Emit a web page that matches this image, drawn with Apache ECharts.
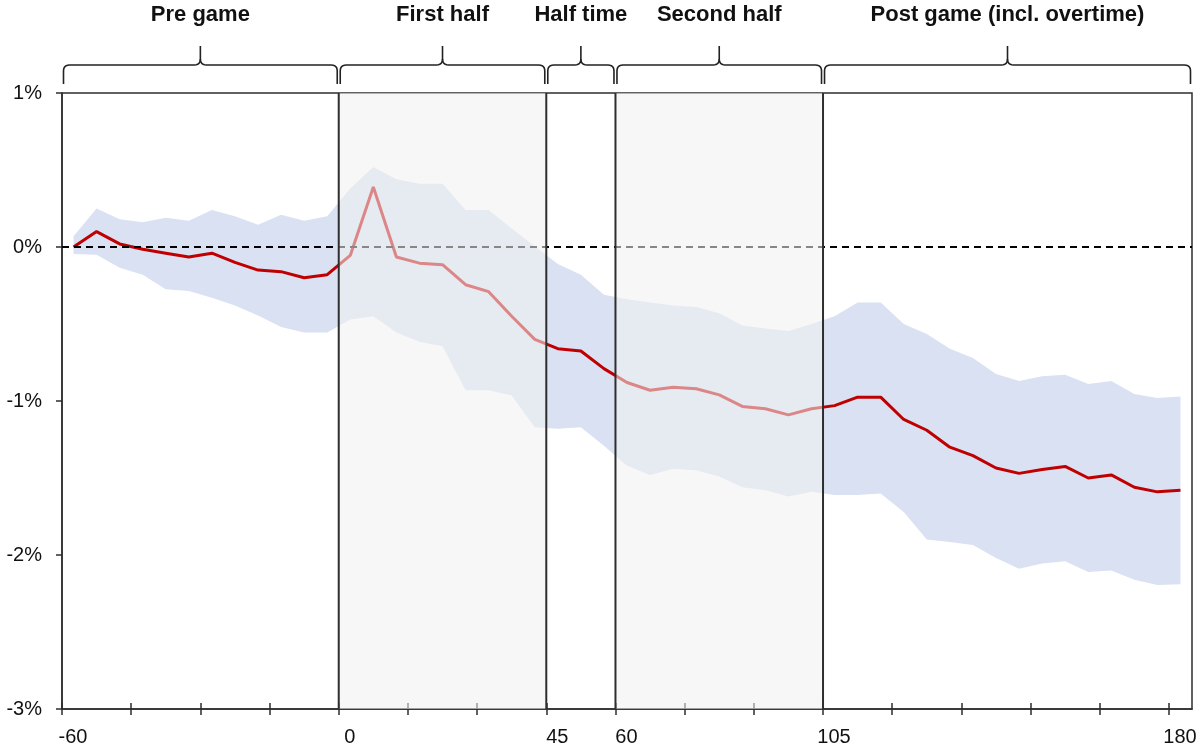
<!DOCTYPE html>
<html>
<head>
<meta charset="utf-8">
<script src="https://cdn.jsdelivr.net/npm/echarts@6.0.0/dist/echarts.min.js"></script>
<style>
html,body{margin:0;padding:0;background:#ffffff;}
#chart{width:1200px;height:749px;}
</style>
</head>
<body>
<div id="chart"></div>
<script>
// ---- data (minutes relative to kick-off, values in %) ----
const minutes = [-57.5,-52.5,-47.5,-42.5,-37.5,-32.5,-27.5,-22.5,-17.5,-12.5,-7.5,-2.5,
  2.5,7.5,12.5,17.5,22.5,27.5,32.5,37.5,42.5,47.5,52.5,57.5,
  62.5,67.5,72.5,77.5,82.5,87.5,92.5,97.5,102.5,107.5,112.5,117.5,
  122.5,127.5,132.5,137.5,142.5,147.5,152.5,157.5,162.5,167.5,172.5,177.5,182.5];
const meanChange = [0.00,0.10,0.02,-0.015,-0.04,-0.065,-0.04,-0.10,-0.15,-0.16,-0.20,-0.18,
  -0.055,0.39,-0.065,-0.105,-0.115,-0.245,-0.29,-0.45,-0.60,-0.66,-0.675,-0.79,
  -0.88,-0.93,-0.91,-0.92,-0.96,-1.035,-1.05,-1.09,-1.05,-1.03,-0.975,-0.975,
  -1.12,-1.19,-1.30,-1.355,-1.435,-1.47,-1.445,-1.425,-1.50,-1.48,-1.56,-1.59,-1.58];
const upperBound = [0.07,0.25,0.18,0.16,0.19,0.17,0.24,0.20,0.145,0.21,0.17,0.20,
  0.38,0.52,0.44,0.41,0.41,0.24,0.24,0.12,0.005,-0.11,-0.18,-0.31,
  -0.34,-0.36,-0.38,-0.39,-0.43,-0.51,-0.53,-0.545,-0.50,-0.45,-0.36,-0.36,
  -0.50,-0.565,-0.66,-0.72,-0.825,-0.87,-0.84,-0.83,-0.89,-0.87,-0.955,-0.98,-0.97];
const lowerBound = [-0.045,-0.05,-0.135,-0.18,-0.275,-0.285,-0.33,-0.38,-0.445,-0.52,-0.555,-0.555,
  -0.47,-0.45,-0.555,-0.615,-0.645,-0.93,-0.93,-0.965,-1.17,-1.18,-1.17,-1.29,
  -1.42,-1.48,-1.44,-1.45,-1.49,-1.56,-1.58,-1.62,-1.59,-1.61,-1.61,-1.60,
  -1.72,-1.90,-1.915,-1.935,-2.02,-2.09,-2.055,-2.04,-2.11,-2.10,-2.16,-2.195,-2.19];

const phaseNames = ['Pre game','First half','Half time','Second half','Post game (incl. overtime)'];
const phaseStart = [-60, 0, 45, 60, 105];
const phaseEnd   = [0, 45, 60, 105, 185];
const shadedStart = [0, 60];
const shadedEnd   = [45, 105];
const boundaries  = [0, 45, 60, 105];
const xTicks = [-60,-45,-30,-15,0,15,30,45,60,75,90,105,120,135,150,165,180];
const xTickLabels = [-60, 0, 45, 60, 105, 180];
const xMin = -60, xMax = 185;
const yMin = -3, yMax = 1;
const zeroLevel = [0, 0];

const FONT = '"Liberation Sans", Arial, Helvetica, sans-serif';
const DARK = '#2e2e2e';

const chart = echarts.init(document.getElementById('chart'), null, {renderer: 'canvas'});

function quadPts(p0, c, p1, n) {
  const out = [];
  for (let k = 1; k <= n; k++) {
    const t = k / n;
    out.push([
      (1-t)*(1-t)*p0[0] + 2*(1-t)*t*c[0] + t*t*p1[0],
      (1-t)*(1-t)*p0[1] + 2*(1-t)*t*c[1] + t*t*p1[1]
    ]);
  }
  return out;
}

const option = {
  animation: false,
  backgroundColor: '#ffffff',
  grid: {
    left: 62, right: 8, top: 93, bottom: 40,
    show: true, borderColor: DARK, borderWidth: 1.5, backgroundColor: 'transparent',
    containLabel: false, outerBoundsMode: 'none'
  },
  xAxis: [{
    type: 'value', min: xMin, max: xMax, interval: 15,
    axisLine: {show: true, onZero: false, lineStyle: {color: DARK, width: 1.5}},
    axisTick: {show: true, inside: false, length: 6, lineStyle: {color: DARK, width: 1.5}, customValues: xTicks},
    axisLabel: {
      show: true, customValues: xTickLabels, margin: 18,
      fontSize: 20, color: '#111', fontFamily: FONT,
      padding: [0, 0, 0, 22],
      formatter: v => String(v)
    },
    splitLine: {show: false}
  }, {
    type: 'value', min: xMin, max: xMax, interval: 15, position: 'bottom',
    axisLine: {show: false, onZero: false},
    axisTick: {show: true, inside: true, length: 6, lineStyle: {color: DARK, width: 1.5}, customValues: xTicks},
    axisLabel: {show: false},
    splitLine: {show: false}
  }],
  yAxis: {
    type: 'value', min: yMin, max: yMax, interval: 1,
    axisLine: {show: true, onZero: false, lineStyle: {color: DARK, width: 1.5}},
    axisTick: {show: true, inside: false, length: 6, lineStyle: {color: DARK, width: 1.5}},
    axisLabel: {margin: 20, fontSize: 20, color: '#111', fontFamily: FONT, formatter: v => v + '%'},
    splitLine: {show: false}
  },
  series: [
    {
      // confidence band
      type: 'custom', name: 'band', z: 1, silent: true,
      data: minutes.map((m, i) => [m, upperBound[i], lowerBound[i]]),
      encode: {x: 0, y: [1, 2]},
      renderItem: function (params, api) {
        if (params.dataIndex !== 0) return null;
        const pts = [];
        for (let i = 0; i < minutes.length; i++) pts.push(api.coord([minutes[i], upperBound[i]]));
        for (let i = minutes.length - 1; i >= 0; i--) pts.push(api.coord([minutes[i], lowerBound[i]]));
        return {type: 'polygon', shape: {points: pts}, style: {fill: '#d9e1f2', stroke: null}};
      }
    },
    {
      type: 'line', name: 'mean', z: 2, silent: true,
      data: minutes.map((m, i) => [m, meanChange[i]]),
      showSymbol: false, symbol: 'none',
      lineStyle: {color: '#c00000', width: 3},
      itemStyle: {color: '#c00000'}
    },
    {
      type: 'line', name: 'zero', z: 3, silent: true,
      data: [[xMin, zeroLevel[0]], [xMax, zeroLevel[1]]],
      showSymbol: false, symbol: 'none',
      lineStyle: {color: '#000000', width: 2, type: [7, 5]}
    },
    {
      // shaded playing periods (semi-transparent overlay)
      type: 'custom', name: 'shade', z: 4, silent: true,
      data: shadedStart.map((s, i) => [s, shadedEnd[i]]),
      renderItem: function (params, api) {
        const s = api.value(0), e = api.value(1);
        const p0 = api.coord([s, yMax]);
        const p1 = api.coord([e, yMin]);
        return {type: 'rect', shape: {x: p0[0], y: p0[1], width: p1[0] - p0[0], height: p1[1] - p0[1]},
          style: {fill: 'rgba(240,240,240,0.56)'}};
      }
    },
    {
      type: 'custom', name: 'bounds', z: 6, silent: true,
      data: boundaries.map(b => [b]),
      renderItem: function (params, api) {
        const b = api.value(0);
        const p0 = api.coord([b, yMax]);
        const p1 = api.coord([b, yMin]);
        return {type: 'line', shape: {x1: p0[0], y1: p0[1], x2: p1[0], y2: p1[1]},
          style: {stroke: DARK, lineWidth: 2}};
      }
    },
    {
      // phase braces and titles above the plot
      type: 'custom', name: 'phases', z: 6, silent: true, clip: false,
      data: phaseStart.map((s, i) => [s, phaseEnd[i]]),
      renderItem: function (params, api) {
        const i = params.dataIndex;
        const top = params.coordSys.y;
        const x1 = api.coord([phaseStart[i], yMax])[0] + 1.5;
        const x2 = api.coord([phaseEnd[i], yMax])[0] - 1.5;
        const mid = (x1 + x2) / 2;
        const yBar = top - 28, yEnd = top - 9, yTip = top - 47, r = 6;
        let pts = [[x1, yEnd], [x1, yBar + r]];
        pts = pts.concat(quadPts([x1, yBar + r], [x1, yBar], [x1 + r, yBar], 6));
        pts.push([mid - r, yBar]);
        pts = pts.concat(quadPts([mid - r, yBar], [mid, yBar], [mid, yBar - r], 6));
        pts.push([mid, yTip]);
        const left = pts;
        let right = [[mid, yBar - r]];
        right = right.concat(quadPts([mid, yBar - r], [mid, yBar], [mid + r, yBar], 6));
        right.push([x2 - r, yBar]);
        right = right.concat(quadPts([x2 - r, yBar], [x2, yBar], [x2, yBar + r], 6));
        right.push([x2, yEnd]);
        return {
          type: 'group',
          children: [
            {type: 'polyline', shape: {points: left}, style: {stroke: '#222', lineWidth: 1.6, fill: null}},
            {type: 'polyline', shape: {points: right}, style: {stroke: '#222', lineWidth: 1.6, fill: null}},
            {type: 'text', style: {text: phaseNames[i], x: mid, y: top - 78, align: 'center', verticalAlign: 'middle',
              font: 'bold 22px ' + FONT, fill: '#111'}}
          ]
        };
      }
    }
  ]
};
chart.setOption(option);
</script>
</body>
</html>
